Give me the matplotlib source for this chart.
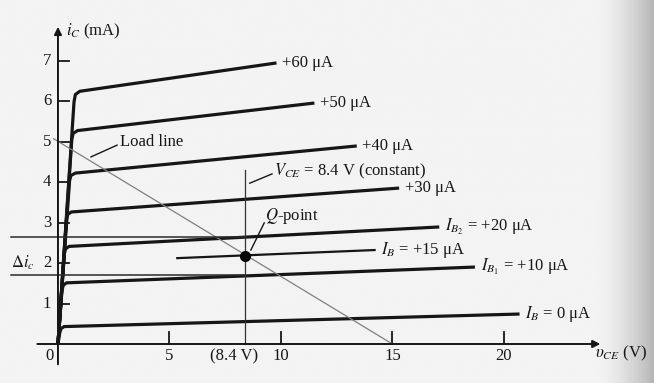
import numpy as np
import matplotlib
matplotlib.use('Agg')
from matplotlib import pyplot as plt

plt.rcParams['font.family'] = ['Liberation Serif', 'DejaVu Serif']
plt.rcParams['mathtext.fontset'] = 'stix'

# transistor output curves: (vCE, iC) points
curve_vce = [
  [0, 0.08, 0.14, 0.27, 20.7],
  [0, 0.18, 0.24, 0.38, 18.7],
  [0, 0.28, 0.34, 0.50, 17.1],
  [0, 0.38, 0.44, 0.60, 15.3],
  [0, 0.52, 0.58, 0.78, 13.4],
  [0, 0.62, 0.68, 0.88, 11.5],
  [0, 0.72, 0.78, 0.98, 9.8],
]
curve_ic = [
  [0, 0.28, 0.38, 0.43, 0.74],
  [0, 1.33, 1.45, 1.51, 1.90],
  [0, 2.22, 2.35, 2.41, 2.89],
  [0, 3.07, 3.20, 3.26, 3.85],
  [0, 4.03, 4.16, 4.22, 4.89],
  [0, 5.05, 5.20, 5.27, 5.95],
  [0, 5.98, 6.16, 6.24, 6.94],
]
curve_labels = [r'$I_B$ = 0 μA', r'$I_{B_1}$ = +10 μA', r'$I_{B_2}$ = +20 μA',
                '+30 μA', '+40 μA', '+50 μA', '+60 μA']

ib15_vce = [5.35, 14.2]; ib15_ic = [2.12, 2.32]
load_vce = [-0.2, 15.0]; load_ic = [5.07, 0.0]
vq = 8.4; iq = 2.17
di_levels = [2.64, 1.70]
xticks = [5, 10, 15, 20]
yticks = [1, 2, 3, 4, 5, 6, 7]

fig = plt.figure(figsize=(6.54, 3.83), dpi=100)
ax = fig.add_axes([0, 0, 1, 1])
ax.set_xlim(-2.60, 26.73); ax.set_ylim(-0.963, 8.494)
ax.axis('off')

# paper background, darker towards the page fold on the right
grad = np.linspace(0, 1, 400)
shade = 0.955 - 0.24*np.clip((grad-0.91)/0.09, 0, 1)**1.6
ax.imshow(shade[None, :], cmap='gray', vmin=0, vmax=1, aspect='auto',
          extent=(-2.60, 26.73, -0.963, 8.494), zorder=0)

ink = '#161616'
# axes with arrows
ax.annotate('', xy=(24.45, 0), xytext=(-1.05, 0),
            arrowprops=dict(arrowstyle='-|>', lw=1.4, color=ink, mutation_scale=11))
ax.annotate('', xy=(0, 7.9), xytext=(0, -0.57),
            arrowprops=dict(arrowstyle='-|>', lw=1.4, color=ink, mutation_scale=11))

for t in xticks:
  ax.plot([t, t], [0, 0.3], color=ink, lw=1.3)
  ax.text(t, -0.3, str(t), fontsize=12, ha='center', va='center', color=ink)
for t in yticks:
  ax.plot([0, 0.5], [t, t], color=ink, lw=1.3)
  ax.text(-0.3, t, str(t), fontsize=12, ha='right', va='center', color=ink)
ax.text(-0.4, -0.3, '0', fontsize=12, ha='center', va='center', color=ink)
ax.text(7.9, -0.3, '(8.4 V)', fontsize=12, ha='center', va='center', color=ink)

# output curves
for vx, iy, lab in zip(curve_vce, curve_ic, curve_labels):
  ax.plot(vx, iy, color=ink, lw=2.3, solid_capstyle='butt', solid_joinstyle='round')
  ax.text(vx[-1] + 0.25, iy[-1], lab, fontsize=12, ha='left', va='center', color=ink)
ax.plot(ib15_vce, ib15_ic, color=ink, lw=1.6)
ax.text(ib15_vce[-1] + 0.3, ib15_ic[-1], r'$I_B$ = +15 μA', fontsize=12,
        ha='left', va='center', color=ink)

# load line, operating point
ax.plot(load_vce, load_ic, color='#808080', lw=0.9)
ax.plot([vq, vq], [0, 4.3], color='#333333', lw=0.9)
for lv in di_levels:
  ax.plot([-2.1, vq], [lv, lv], color='#2a2a2a', lw=1.1)
ax.plot(vq, iq, 'o', color='k', markersize=7)

ax.text(-1.57, 2.0, r'$\Delta i_c$', fontsize=12, ha='center', va='center', color=ink)
ax.text(0.36, 7.72, r'$i_C$ (mA)', fontsize=12, ha='left', va='center', color=ink)
ax.text(24.1, -0.22, r'$\upsilon_{CE}$ (V)', fontsize=12, ha='left', va='center', color=ink)

ax.plot([1.48, 2.65], [4.62, 4.91], color=ink, lw=1.0)
ax.text(2.8, 4.98, 'Load line', fontsize=12, ha='left', va='center', color=ink)
ax.plot([8.6, 9.6], [3.97, 4.2], color=ink, lw=1.0)
ax.text(9.7, 4.27, r'$V_{CE}$ = 8.4 V (constant)', fontsize=12, ha='left', va='center', color=ink)
ax.plot([8.65, 9.25], [2.32, 2.99], color=ink, lw=1.0)
ax.text(9.3, 3.16, r'$Q$-point', fontsize=12, ha='left', va='center', color=ink)

plt.savefig('out.png', dpi=100)
